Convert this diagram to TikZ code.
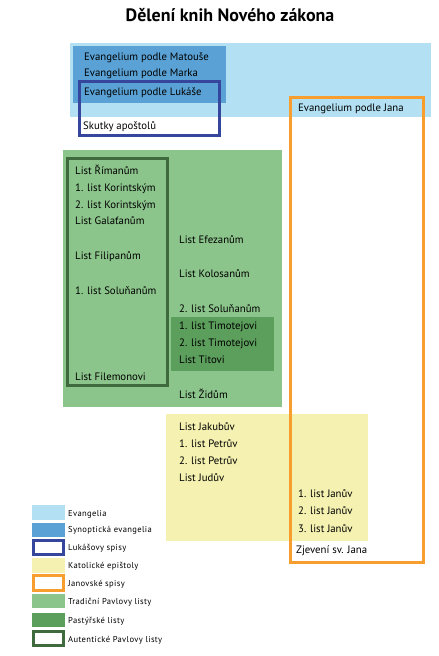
\documentclass[tikz,border=0pt]{standalone}
\usepackage{fontspec}
\setmainfont{PT Sans}
\newfontfamily\legfont[LetterSpace=4]{PT Sans}
\definecolor{evblue}{HTML}{B3E1F3}
\definecolor{synblue}{HTML}{5AA2D5}
\definecolor{lukblue}{HTML}{36469C}
\definecolor{janorange}{HTML}{F79E2F}
\definecolor{paulgreen}{HTML}{8CC58B}
\definecolor{pastgreen}{HTML}{5C9E5C}
\definecolor{autgreen}{HTML}{3F6A3E}
\definecolor{katyellow}{HTML}{F4F1B1}
\tikzset{
  book/.style={anchor=base west, inner sep=0pt, font=\fontsize{10.8}{12}\selectfont},
  legtext/.style={anchor=base west, inner sep=0pt, font=\legfont\fontsize{8.6}{10}\selectfont},
  framebox/.style={line width=3bp},
}
\begin{document}
\begin{tikzpicture}[x=1bp,y=-1bp]
\useasboundingbox (0,0) rectangle (439,656);
% title
\node[anchor=base, inner sep=0pt, font=\fontsize{18}{20}\bfseries] (title) at (230,22) {Dělení knih Nového zákona};
% background areas
\fill[evblue] (70,43) rectangle (431,117);
\fill[synblue] (73,46) rectangle (226,103);
\fill[paulgreen] (63,150) rectangle (282,407);
\fill[pastgreen] (171,317) rectangle (274,371);
\fill[katyellow] (166,414) rectangle (368,541);
% frames
\draw[framebox, lukblue] (79.5,81.5) rectangle (219.5,135.5);
\draw[framebox, autgreen] (67.5,158.5) rectangle (167.5,385.5);
\draw[framebox, janorange] (290.5,97.5) rectangle (423.5,562.5);
% gospels
\node[book] (mt) at (84,61) {Evangelium podle Matouše};
\node[book] (mk) at (84,77) {Evangelium podle Marka};
\node[book] (lk) at (84,96) {Evangelium podle Lukáše};
\node[book] (sk) at (83,130) {Skutky apoštolů};
\node[book] (jn) at (298,112) {Evangelium podle Jana};
% Paul left
\node[book] (rim) at (75,174) {List Římanům};
\node[book] (kor1) at (75,191) {1. list Korintským};
\node[book] (kor2) at (75,208) {2. list Korintským};
\node[book] (gal) at (75,224) {List Galaťanům};
\node[book] (fil) at (75,259) {List Filipanům};
\node[book] (sol1) at (75,294) {1. list Soluňanům};
\node[book] (flm) at (75,380) {List Filemonovi};
% Paul right
\node[book] (ef) at (179,243) {List Efezanům};
\node[book] (kol) at (179,277) {List Kolosanům};
\node[book] (sol2) at (179,312) {2. list Soluňanům};
\node[book] (tim1) at (179,329) {1. list Timotejovi};
\node[book] (tim2) at (179,346) {2. list Timotejovi};
\node[book] (tit) at (179,363) {List Titovi};
\node[book] (zid) at (179,398) {List Židům};
% catholic
\node[book] (jak) at (179,430) {List Jakubův};
\node[book] (pt1) at (179,447) {1. list Petrův};
\node[book] (pt2) at (179,464) {2. list Petrův};
\node[book] (jud) at (179,481) {List Judův};
\node[book] (jan1) at (298,497) {1. list Janův};
\node[book] (jan2) at (298,514) {2. list Janův};
\node[book] (jan3) at (298,532) {3. list Janův};
\node[book] (zj) at (296,553) {Zjevení sv. Jana};
% legend
\fill[evblue] (32,505) rectangle (65,520);
\fill[synblue] (32,523) rectangle (65,537);
\draw[framebox, lukblue] (33.5,540.5) rectangle (63.5,554.5);
\fill[katyellow] (32,558) rectangle (65,573);
\draw[framebox, janorange] (33.5,575.5) rectangle (63.5,590.5);
\fill[paulgreen] (32,594) rectangle (65,608);
\fill[pastgreen] (32,613) rectangle (65,627);
\draw[framebox, autgreen] (33.5,631.5) rectangle (63.5,645.5);
\node[legtext] (l1) at (68,516) {Evangelia};
\node[legtext] (l2) at (68,532) {Synoptická evangelia};
\node[legtext] (l3) at (68,550) {Lukášovy spisy};
\node[legtext] (l4) at (68,568) {Katolické epištoly};
\node[legtext] (l5) at (68,586) {Janovské spisy};
\node[legtext] (l6) at (68,604) {Tradiční Pavlovy listy};
\node[legtext] (l7) at (68,623) {Pastýřské listy};
\node[legtext] (l8) at (68,642) {Autentické Pavlovy listy};
\end{tikzpicture}
\end{document}
